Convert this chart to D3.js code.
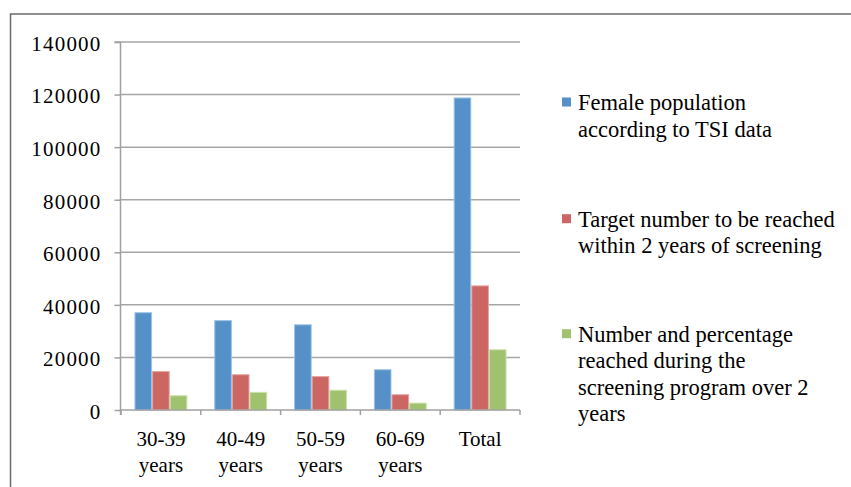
<!DOCTYPE html>
<html>
<head>
<meta charset="utf-8">
<script src="https://cdn.jsdelivr.net/npm/d3@7"></script>
</head>
<body style="margin:0;background:#fff">
<svg id="chart" width="851" height="487" style="display:block;font-family:'Liberation Serif'"></svg>
<script>
const categories = [["30-39", "years"], ["40-49", "years"], ["50-59", "years"], ["60-69", "years"], ["Total"]];
const seriesNames = [
  ["Female population", "according to TSI data"],
  ["Target number to be reached", "within 2 years of screening"],
  ["Number and percentage", "reached during the", "screening program over 2", "years"]
];
const femalePopulation = [37200, 34200, 32600, 15500, 118900];
const targetNumber = [14800, 13600, 12900, 6000, 47400];
const numberReached = [5600, 6900, 7700, 2800, 23100];
const yTicks = [0, 20000, 40000, 60000, 80000, 100000, 120000, 140000];
const colors = ["#5591c8", "#cb6662", "#a0c26e"];
const strokes = ["#9cc3e6", "#e6a3a0", "#c9e0a8"];

const svg = d3.select("#chart");
const series = [femalePopulation, targetNumber, numberReached];

function serif(sel, size) {
  return sel.attr("font-family", "Liberation Serif").style("font-family", d => '"Liberation Serif"')
    .attr("font-size", size || 21).attr("fill", "#000");
}

// outer border
svg.append("path")
  .attr("d", "M10.5,490 L10.5,14 L860,14")
  .attr("fill", "none").attr("stroke", "#6b6b6b").attr("stroke-width", 1.5);

const pLeft = 121, pRight = 520, pTop = 42, pBottom = 410;
const x = d3.scaleBand().domain(d3.range(categories.length)).range([pLeft, pRight]).paddingInner(0).paddingOuter(0);
const y = d3.scaleLinear().domain([0, 140000]).range([pBottom, pTop]);
const inner = d3.scaleBand().domain(d3.range(series.length)).range([0, x.bandwidth()]).paddingOuter(0.764).paddingInner(0);

// gridlines
svg.append("g").selectAll("line").data(yTicks.filter(d => d > 0)).join("line")
  .attr("x1", pLeft).attr("x2", pRight)
  .attr("y1", d => y(d)).attr("y2", d => y(d))
  .attr("stroke", "#a6a6a6").attr("stroke-width", 1.5);

// bars
series.forEach((vals, si) => {
  svg.append("g").selectAll("rect").data(vals).join("rect")
    .attr("x", (d, i) => x(i) + inner(si) + 0.5)
    .attr("y", d => y(d) + 0.5)
    .attr("width", inner.bandwidth() - 1)
    .attr("height", d => pBottom - y(d) - 0.5)
    .attr("fill", colors[si])
    .attr("stroke", strokes[si]).attr("stroke-width", 1);
});

// y axis
const yAxis = d3.axisLeft(y).tickValues(yTicks).tickSize(6).tickPadding(13).tickFormat(d3.format("d"));
const gy = svg.append("g").attr("transform", `translate(${pLeft - 0.5},0)`).call(yAxis);
gy.attr("font-family", "Liberation Serif").attr("font-size", 21);
gy.select(".domain").attr("d", `M-6,${pTop}H0V${pBottom + 5}`).attr("stroke", "#a0a0a0").attr("stroke-width", 1.5);
gy.selectAll(".tick line").attr("stroke", "#a0a0a0").attr("stroke-width", 1.5);
serif(gy.selectAll(".tick text")).attr("letter-spacing", 1.2).attr("dy", "0.4em");

// x axis
const xAxis = d3.axisBottom(x).tickSize(0).tickFormat("");
const gx = svg.append("g").attr("transform", `translate(0,${pBottom})`).call(xAxis);
gx.attr("font-family", "Liberation Serif").attr("font-size", 21);
gx.select(".domain").attr("d", `M${pLeft},0H${pRight}`).attr("stroke", "#a0a0a0").attr("stroke-width", 1.5);
gx.selectAll(".tick").remove();
const boundaries = d3.range(categories.length + 1).map(i => i < categories.length ? x(i) : pRight);
gx.selectAll("line.sep").data(boundaries).join("line").attr("class", "sep")
  .attr("x1", d => d).attr("x2", d => d).attr("y1", 0).attr("y2", 5)
  .attr("stroke", "#a0a0a0").attr("stroke-width", 1.5);
const labels = serif(gx.selectAll("text.cat").data(categories).join("text").attr("class", "cat"))
  .attr("text-anchor", "middle")
  .attr("transform", (d, i) => `translate(${x(i) + x.bandwidth() / 2},0)`);
labels.selectAll("tspan").data(d => d).join("tspan")
  .attr("x", 0).attr("y", (d, j) => 36 + j * 26).text(d => d);

// legend
const legendBase = [110, 226.7, 341.7];
const lg = svg.append("g").attr("font-family", "Liberation Serif");
seriesNames.forEach((lines, si) => {
  lg.append("rect").attr("x", 562).attr("y", legendBase[si] - 12.5).attr("width", 9).attr("height", 9)
    .attr("fill", colors[si]);
  const t = serif(lg.append("text"), 22.5);
  t.selectAll("tspan").data(lines).join("tspan")
    .attr("x", 578).attr("y", (d, j) => legendBase[si] + j * 26.5).text(d => d);
});
</script>
</body>
</html>
